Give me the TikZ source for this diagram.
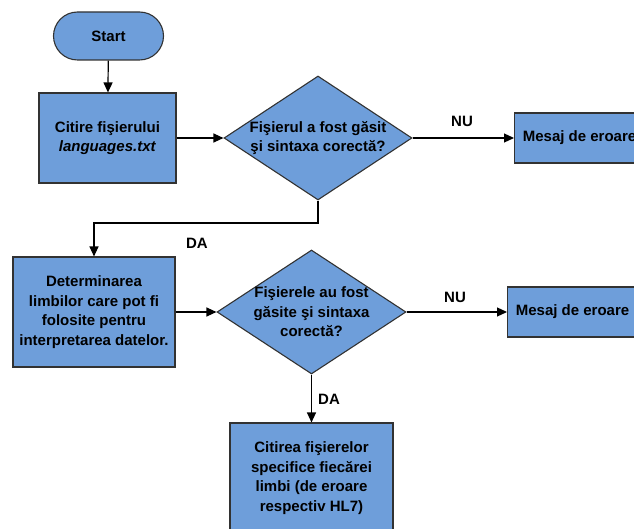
\documentclass[tikz,border=0pt]{standalone}
\usepackage{fontspec}
\setmainfont{Liberation Sans}
\usetikzlibrary{shapes.geometric,arrows.meta}
\definecolor{boxfill}{RGB}{110,158,218}
\definecolor{boxline}{RGB}{50,50,50}
\tikzset{
  every node/.style={font=\fontsize{15}{19.5}\selectfont\bfseries},
  procbox/.style={draw=boxline, line width=1.1pt, fill=boxfill, align=center, inner sep=0pt},
  startbox/.style={procbox, rounded corners=24pt},
  decision/.style={draw=boxline, line width=1.1pt, fill=boxfill, diamond, inner sep=0pt},
  dtext/.style={align=center, inner sep=0pt},
  conn/.style={draw=black, line width=1.2pt, -{Triangle[length=10pt,width=9pt]}},
  lbl/.style={inner sep=0pt},
}
\begin{document}
\begin{tikzpicture}[x=1pt,y=-1pt]
\useasboundingbox (0,0) rectangle (634,529);
\clip (0,0) rectangle (634,529);

\node[startbox, minimum width=110pt, minimum height=48pt] (start) at (108.5,36) {Start};
\node[procbox, minimum width=137pt, minimum height=90pt] (read) at (107.5,138)
  {Citire fişierului\\[-1pt]\textit{languages.txt}};
\node[decision, minimum width=188pt, minimum height=124pt] (d1) at (318,138) {};
\node[dtext] (d1t) at (318,138) {Fişierul a fost găsit\\şi sintaxa corectă?};
\node[procbox, minimum width=130pt, minimum height=50pt, anchor=west] (err1) at (514,138) {Mesaj de eroare};

\node[procbox, minimum width=162pt, minimum height=110pt] (det) at (94,312)
  {Determinarea\\limbilor care pot fi\\folosite pentru\\interpretarea datelor.};
\node[decision, minimum width=189pt, minimum height=124pt] (d2) at (311.5,312) {};
\node[dtext] (d2t) at (311.5,312) {Fişierele au fost\\găsite şi sintaxa\\corectă?};
\node[procbox, minimum width=130pt, minimum height=50pt, anchor=west] (err2) at (507,312) {Mesaj de eroare};

\node[procbox, minimum width=163pt, minimum height=110pt] (cit) at (311.5,478)
  {Citirea fişierelor\\specifice fiecărei\\limbi (de eroare\\respectiv HL7)};

\coordinate (bend1) at (318,223);
\coordinate (bend2) at (94,223);

\draw[conn] (start) -- (read);
\draw[conn] (read) -- (d1);
\draw[conn] (d1.east) -- (err1.west);
\draw[conn] (d1.south) -- (bend1) -- (bend2) -- (det.north);
\draw[conn] (det) -- (d2);
\draw[conn] (d2.east) -- (err2.west);
\draw[conn] (d2.south) -- (cit.north);

\node[lbl] (nu1) at (462,121) {NU};
\node[lbl] (nu2) at (455,297) {NU};
\node[lbl] (da1) at (197,243) {DA};
\node[lbl] (da2) at (329,399) {DA};
\end{tikzpicture}
\end{document}
